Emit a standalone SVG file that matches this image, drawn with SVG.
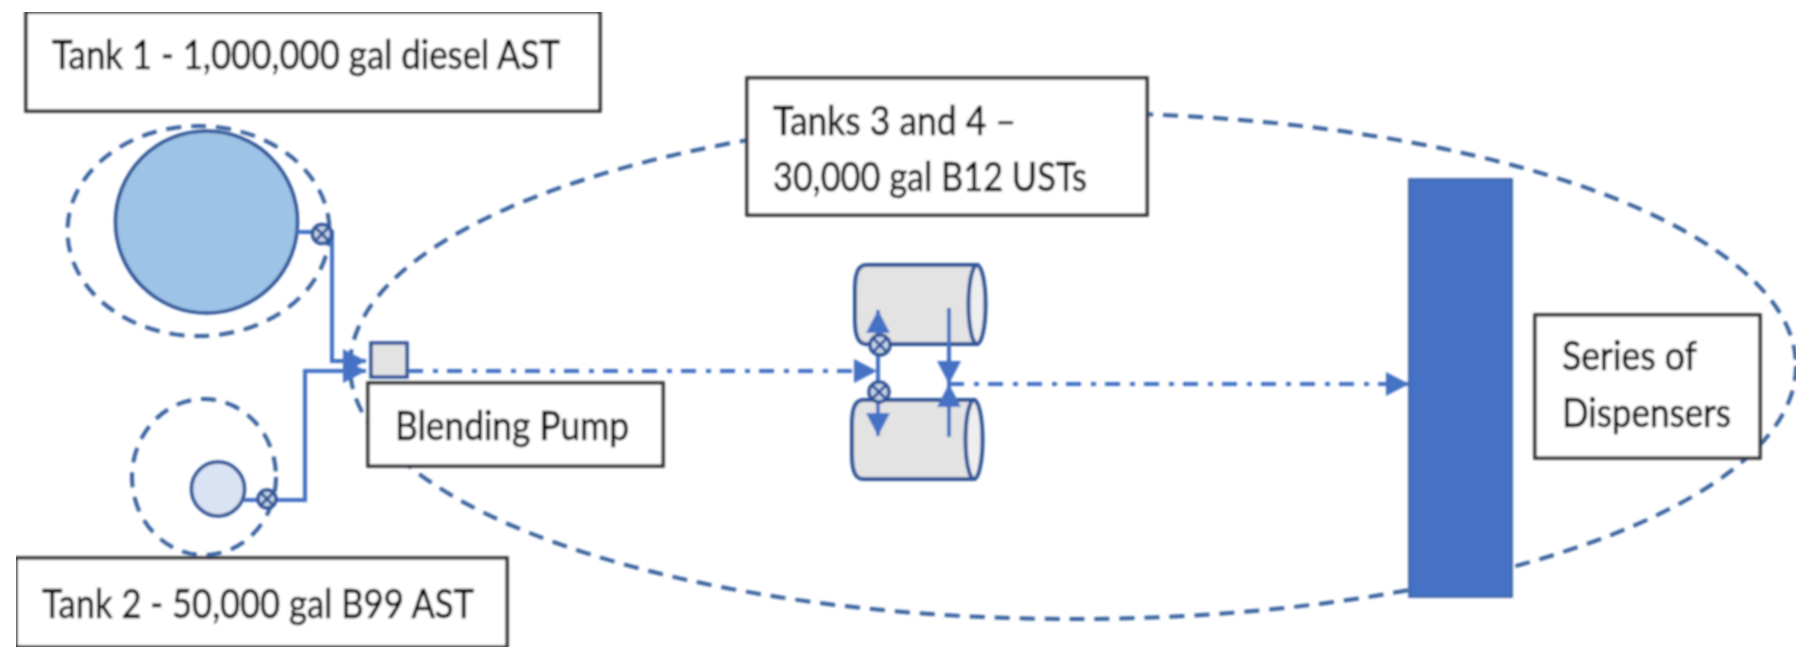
<svg xmlns="http://www.w3.org/2000/svg" width="1816" height="647" viewBox="0 0 1816 647">
<style>
.bound{fill:none;stroke:#3b649f;stroke-width:4;stroke-dasharray:15 10}
.box{fill:#fff;stroke:#333;stroke-width:3.5}
.lbl{font-family:"Lato","Carlito","Open Sans",sans-serif;font-size:41px;fill:#000;stroke:#000;stroke-width:.6}
.tank{stroke:#2f5597;stroke-width:3.5}
.cyl{fill:#e3e3e3;stroke:#2f5597;stroke-width:4}
.cap{fill:#eeeeee;stroke:#2f5597;stroke-width:4}
.pipe{fill:none;stroke:#4472c4;stroke-width:4}
.flow{fill:none;stroke:#4472c4;stroke-width:4;stroke-dasharray:15 10 5 9}
.valve circle{fill:#c9d4e8;stroke:#2f5597;stroke-width:3.5}
.valve path{stroke:#2f5597;stroke-width:3;fill:none}
</style>
<defs>
<marker id="arrow" markerUnits="userSpaceOnUse" markerWidth="26" markerHeight="26" refX="23" refY="12" orient="auto"><path d="M0 0L23 12L0 24Z" fill="#4472c4"/></marker>
<filter id="soft" x="0" y="0" width="100%" height="100%"><feGaussianBlur stdDeviation="0.8"/></filter>
</defs>
<rect width="1816" height="647" fill="#fff"/>
<g filter="url(#soft)">
<g id="boundaries">
<ellipse class="bound" cx="1073" cy="366" rx="723" ry="253"/>
<ellipse class="bound" cx="198.5" cy="231" rx="131" ry="105"/>
<ellipse class="bound" cx="204" cy="477" rx="72" ry="78"/>
</g>
<g id="tank1"><circle class="tank" cx="206.5" cy="222" r="91" fill="#9dc3e6"/></g>
<g id="tank2"><ellipse class="tank" cx="218" cy="489" rx="26.5" ry="27" fill="#dae3f3"/></g>
<g id="tank3">
<path class="cyl" d="M866 265H977V344H866Q855 344 855 320V289Q855 265 866 265Z"/>
<ellipse class="cap" cx="977" cy="304.500" rx="8.5" ry="39.500"/>
</g>
<g id="tank4">
<path class="cyl" d="M863 400H974V479H863Q852 479 852 455V424Q852 400 863 400Z"/>
<ellipse class="cap" cx="974" cy="439.500" rx="8.5" ry="39.500"/>
</g>
<g id="dispensers"><rect x="1409" y="179" width="103" height="418" fill="#4472c4" stroke="#2f5597" stroke-width="1.5"/></g>
<g id="pump"><rect x="371" y="343" width="36" height="34" fill="#e3e3e3" stroke="#2f5597" stroke-width="3.5"/></g>
<g id="connectors">
<path class="pipe" d="M297 232H332V361H366" marker-end="url(#arrow)"/>
<path class="pipe" d="M244 500H305V371H366" marker-end="url(#arrow)"/>
<path class="flow" d="M408 371H877" marker-end="url(#arrow)"/>
<path class="flow" d="M949 384H1409" marker-end="url(#arrow)"/>
<path class="pipe" d="M878 371V310" marker-end="url(#arrow)"/>
<path class="pipe" d="M878 371V436" marker-end="url(#arrow)"/>
<path class="pipe" d="M949 308V384" marker-end="url(#arrow)"/>
<path class="pipe" d="M949 437V384" marker-end="url(#arrow)"/>
</g>
<g id="valves">
<g class="valve" transform="translate(322 234)"><circle r="9.500"/><path d="M-6.500 -6.500L6.500 6.500M-6.500 6.500L6.500 -6.500"/></g>
<g class="valve" transform="translate(267 499)"><circle r="9"/><path d="M-6 -6L6 6M-6 6L6 -6"/></g>
<g class="valve" transform="translate(880 345)"><circle r="10"/><path d="M-7 -7L7 7M-7 7L7 -7"/></g>
<g class="valve" transform="translate(879 392)"><circle r="10"/><path d="M-7 -7L7 7M-7 7L7 -7"/></g>
</g>
<g id="label-tank1"><rect class="box" x="26" y="12" width="574" height="99"/><text class="lbl" x="52" y="69" textLength="508" lengthAdjust="spacingAndGlyphs">Tank 1 - 1,000,000 gal diesel AST</text></g>
<g id="label-tank2"><rect class="box" x="16" y="558" width="491" height="89"/><text class="lbl" x="42" y="618" textLength="432" lengthAdjust="spacingAndGlyphs">Tank 2 - 50,000 gal B99 AST</text></g>
<g id="label-pump"><rect class="box" x="368" y="383" width="295" height="83"/><text class="lbl" x="395" y="440" textLength="234" lengthAdjust="spacingAndGlyphs">Blending Pump</text></g>
<g id="label-tanks34"><rect class="box" x="747" y="78" width="400" height="137"/><text class="lbl" x="773" y="135" textLength="243" lengthAdjust="spacingAndGlyphs">Tanks 3 and 4 –</text><text class="lbl" x="773" y="191" textLength="314" lengthAdjust="spacingAndGlyphs">30,000 gal B12 USTs</text></g>
<g id="label-dispensers"><rect class="box" x="1535" y="315" width="225" height="143"/><text class="lbl" x="1562" y="370" textLength="135" lengthAdjust="spacingAndGlyphs">Series of</text><text class="lbl" x="1562" y="427" textLength="169" lengthAdjust="spacingAndGlyphs">Dispensers</text></g>
</g>
</svg>
